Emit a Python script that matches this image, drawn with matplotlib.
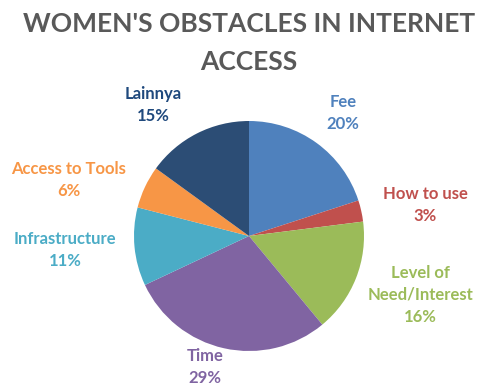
import matplotlib.pyplot as plt

# chart data
categories = ['Fee', 'How to use', 'Level of\nNeed/Interest', 'Time',
              'Infrastructure', 'Access to Tools', 'Lainnya']
percentages = [20, 3, 16, 29, 11, 6, 15]

colors = ['#4F81BD', '#C0504D', '#9BBB59', '#8064A2', '#4BACC6', '#F79646', '#2C4D75']
label_colors = ['#4F81BD', '#C0504D', '#9BBB59', '#8064A2', '#4BACC6', '#F79646', '#1F497D']
# label centres in pie radius units
label_pos = [(0.82, 1.07), (1.53, 0.27), (1.49, -0.51), (-0.38, -1.14),
             (-1.6, -0.12), (-1.57, 0.49), (-0.83, 1.14)]

plt.rcParams['font.family'] = ['Lato', 'DejaVu Sans']

fig = plt.figure(figsize=(4.86, 3.86), dpi=100)
ax = fig.add_axes([(249 - 115) / 486, (150 - 115) / 386, 230 / 486, 230 / 386])

ax.pie(percentages, colors=colors, startangle=90, counterclock=False,
       radius=1, wedgeprops={'linewidth': 0})
ax.set_xlim(-1, 1)
ax.set_ylim(-1, 1)
ax.set_aspect('equal')
ax.axis('off')

for name, pct, col, (x, y) in zip(categories, percentages, label_colors, label_pos):
    ax.text(x, y, f'{name}\n{pct}%', ha='center', va='center', color=col,
            fontsize=12, fontweight='bold', linespacing=1.45)

fig.text(249 / 486, 1 - 43 / 386, "WOMEN'S OBSTACLES IN INTERNET\nACCESS",
         ha='center', va='center', fontsize=19, fontweight='bold',
         color='#595959', linespacing=1.7)

fig.savefig('out.png', dpi=100)
